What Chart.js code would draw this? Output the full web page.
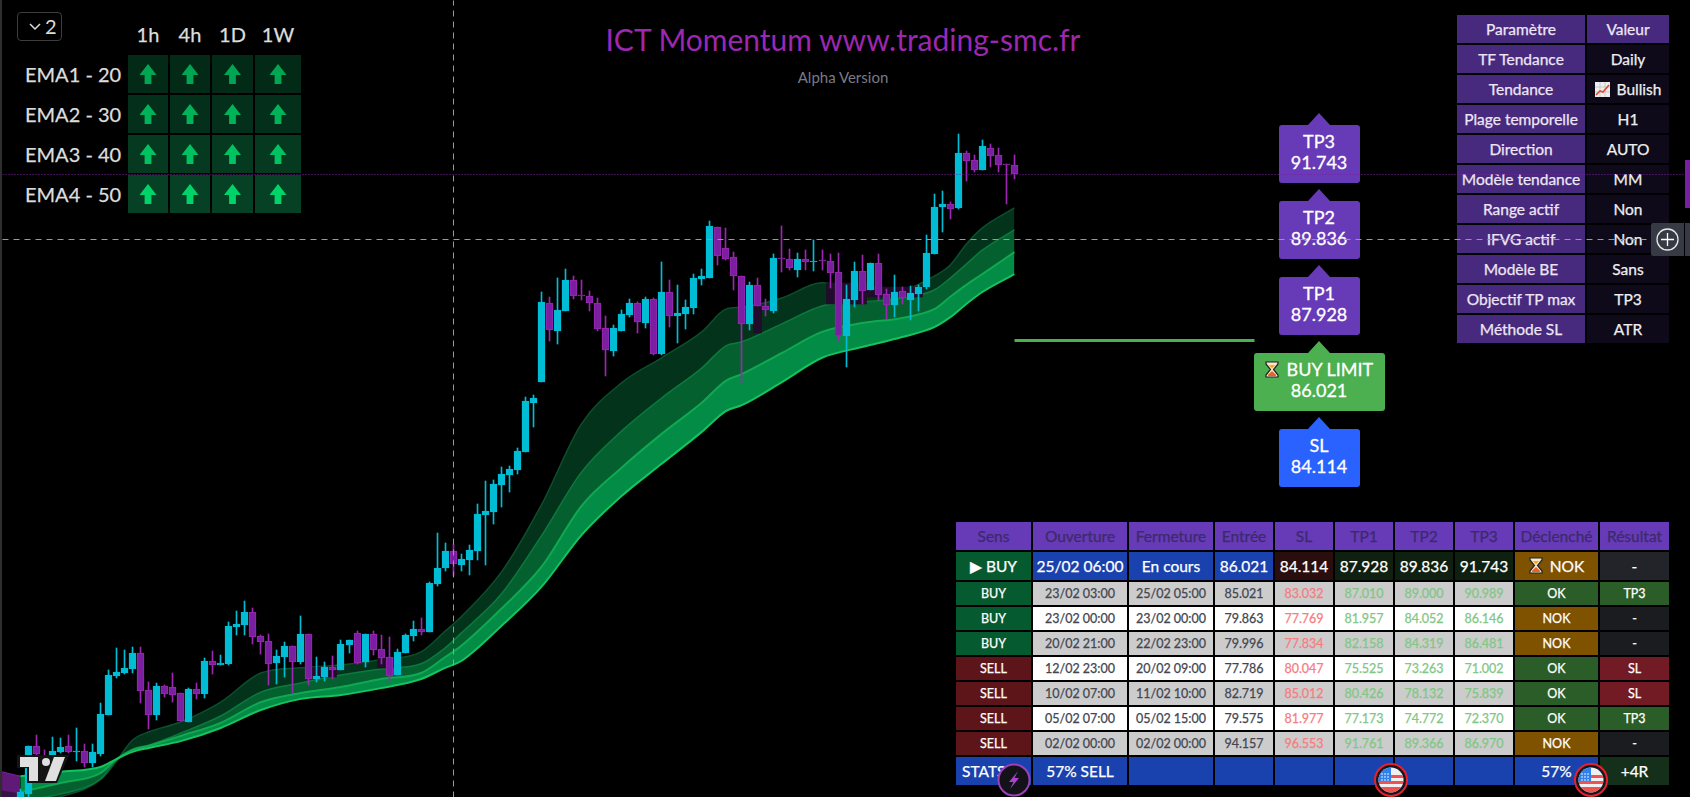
<!DOCTYPE html>
<html>
<head>
<meta charset="utf-8">
<title>ICT Momentum</title>
<script src="https://cdn.jsdelivr.net/npm/chart.js@4"></script>
<style>
  html, body { margin: 0; padding: 0; background: #000; width: 1690px; height: 797px; overflow: hidden; }
  body { font-family: Lato, "Noto Sans", sans-serif; color: #fff; position: relative; }
  #chart { position: absolute; left: 0; top: 0; z-index: 5; pointer-events: none; }
  table { position: absolute; border-collapse: separate; border-spacing: 2px; table-layout: fixed; z-index: 2; -webkit-text-stroke: .25px; }
  td { padding: 0; text-align: center; vertical-align: middle; white-space: nowrap; overflow: hidden; }
  #title { position: absolute; left: 495px; width: 696px; top: 19px; text-align: center; font-size: 30px; color: #9c27b0; line-height: 40px; }
  #subtitle { position: absolute; left: 695px; width: 296px; top: 67px; text-align: center; font-size: 15px; color: #787b86; line-height: 20px; }
  #edge { position: absolute; left: 0; top: 0; width: 2px; height: 797px; background: #2e2e2e; z-index: 6; }
  #collapse { position: absolute; left: 17px; top: 12px; width: 43px; height: 27px; border: 1px solid #3d3d3d; border-radius: 4px; font-size: 20px; line-height: 27px; color: #ddd; }
  #collapse span { position: absolute; left: 27px; top: 0; }
  #collapse svg { position: absolute; left: 11px; top: 10px; }
  .arrow { width: 17px; height: 20px; margin: auto; clip-path: polygon(50% 0, 100% 55%, 70% 55%, 70% 100%, 30% 100%, 30% 55%, 0 55%); }
  .lbl { position: absolute; z-index: 2; box-sizing: border-box; }
  .lbl .box { position: absolute; left: 0; top: 12px; width: 100%; height: 58px; border-radius: 3px; text-align: center; font-size: 18px; line-height: 21px; padding-top: 6px; box-sizing: border-box; -webkit-text-stroke: .3px; }
  .lbl .tip { position: absolute; top: 0; width: 0; height: 0; border-left: 11px solid transparent; border-right: 11px solid transparent; border-bottom: 12px solid; }
  #tag { position: absolute; left: 1685px; top: 160px; width: 5px; height: 48px; background: #7b1fa2; z-index: 6; }
  #plus { position: absolute; left: 1651px; top: 223px; width: 33px; height: 33px; background: #363a45; border-radius: 2px 0 0 2px; z-index: 6; }
  #plus2 { position: absolute; left: 1685px; top: 223px; width: 5px; height: 33px; background: #363a45; z-index: 6; }
  .over { position: absolute; z-index: 7; }
  svg { display: inline-block; }
</style>
</head>
<body>
<div id="edge"></div>
<div id="collapse"><svg width="12" height="8" viewBox="0 0 12 8"><path d="M1 1 L6 6 L11 1" fill="none" stroke="#ddd" stroke-width="1.5"/></svg><span>2</span></div>
<div id="title">ICT Momentum www.trading-smc.fr</div>
<div id="subtitle">Alpha Version</div>
<div id="tag"></div>
<div id="plus"><svg width="33" height="33" viewBox="0 0 33 33"><circle cx="16.5" cy="16.5" r="10.5" fill="none" stroke="#e8e8e8" stroke-width="1.3"/><path d="M16.5 10 V23 M10 16.5 H23" stroke="#fff" stroke-width="1.3"/></svg></div>
<div id="plus2"></div>
<canvas id="chart" width="1690" height="797"></canvas>

<script>
// candles, one entry per bar
const opens = [74.25,74.65,75.86,75.61,75.63,75.71,75.86,75.71,75.73,75.43,75.66,76.64,77.61,77.69,77.79,78.19,77.26,76.64,77.36,77.34,77.19,76.46,77.29,77.16,77.99,77.89,77.92,78.84,78.89,79.22,78.62,78.49,77.94,78.09,78.37,77.97,78.67,77.54,77.59,77.84,77.77,78.39,78.69,77.97,78.67,78.29,78.09,77.64,78.19,78.62,78.79,78.72,79.92,80.32,80.75,80.40,80.53,80.75,81.65,81.73,82.41,82.66,82.78,83.24,84.47,84.99,86.97,86.27,86.77,87.55,87.18,87.15,86.97,86.35,85.77,86.27,86.67,86.97,86.47,87.07,85.69,87.25,86.65,86.70,86.85,87.58,87.60,88.88,88.35,88.13,87.65,86.45,87.43,86.90,86.77,88.10,88.08,87.80,88.08,88.00,88.05,88.03,87.75,86.15,87.05,87.78,87.30,87.98,87.20,86.92,87.28,87.05,87.20,87.38,88.20,89.38,89.46,89.36,90.74,90.56,90.31,90.86,90.69,90.46,90.44];
const highs = [74.78,75.86,76.13,75.76,76.08,76.06,76.13,76.31,75.91,75.91,76.94,77.77,78.32,78.27,78.34,78.34,77.46,77.44,77.39,77.69,77.19,77.31,77.44,78.07,78.24,78.14,78.97,79.25,79.50,79.32,78.64,78.67,78.27,78.47,78.37,79.12,78.67,78.09,77.96,78.12,78.52,78.52,78.74,78.67,78.74,78.64,78.59,78.29,78.67,78.99,79.07,79.97,81.20,80.95,80.93,80.68,80.90,81.93,82.51,82.53,82.86,82.88,83.34,84.62,84.67,87.25,87.13,87.60,87.83,87.65,87.55,87.28,87.10,86.65,86.42,86.80,87.07,87.00,87.13,87.10,88.00,87.55,87.43,87.05,87.70,87.83,89.03,88.88,88.86,88.25,87.65,87.50,87.60,87.07,88.20,88.91,88.33,88.23,88.30,88.55,88.30,88.20,88.23,87.43,88.00,88.18,87.98,88.20,87.33,87.68,87.38,87.40,87.43,88.68,89.71,89.79,89.51,91.22,90.79,90.69,91.07,90.96,90.86,90.46,90.69];
const lows = [74.50,74.55,75.58,75.43,75.58,75.68,75.68,75.48,75.33,75.33,75.61,76.64,77.56,77.66,77.69,76.94,76.28,76.51,77.09,76.96,76.49,76.46,77.04,77.06,77.66,77.89,77.89,78.64,78.64,78.42,78.17,77.39,77.41,77.59,77.19,77.92,77.39,77.46,77.49,77.54,77.77,78.19,77.92,77.84,78.14,77.92,77.46,77.64,78.19,78.49,78.64,78.72,79.87,80.25,80.12,80.25,80.15,80.53,80.40,81.43,81.85,82.23,82.68,83.24,83.86,84.99,86.02,85.95,86.77,87.07,87.05,86.77,86.27,85.14,85.64,86.27,86.62,86.22,86.35,85.67,85.67,86.37,85.97,86.32,86.70,87.43,87.60,87.93,88.05,87.30,84.97,86.30,86.90,86.65,86.72,87.75,87.80,87.63,87.80,87.78,87.80,87.35,86.02,85.37,86.87,86.95,87.30,87.05,86.57,86.62,86.95,86.55,86.77,87.33,88.20,88.76,89.08,89.33,90.04,90.26,90.31,90.39,90.26,89.46,90.09];
const closes = [74.70,75.86,75.66,75.48,75.73,75.83,75.71,75.73,75.43,75.71,76.66,77.64,77.71,77.82,78.19,77.24,76.64,77.36,77.16,77.14,76.49,77.29,77.16,77.99,77.89,77.94,78.87,78.92,79.22,78.59,78.47,77.92,78.12,78.37,77.97,78.67,77.54,77.61,77.84,77.77,78.42,78.52,77.94,78.67,78.27,78.07,77.61,78.22,78.64,78.79,78.72,79.95,80.33,80.75,80.42,80.55,80.78,81.68,81.75,82.43,82.68,82.81,83.26,84.52,84.59,87.00,86.30,86.80,87.55,87.15,87.15,86.97,86.32,85.80,86.35,86.70,86.97,86.50,87.07,85.69,87.25,86.65,86.72,86.87,87.60,87.65,88.91,88.15,88.08,87.65,86.45,87.43,86.90,86.80,88.10,88.08,87.85,88.08,88.00,88.03,88.03,87.73,86.15,87.07,87.78,87.28,87.98,87.18,86.92,87.25,87.10,87.23,87.38,88.23,89.38,89.46,89.33,90.74,90.54,90.31,90.91,90.66,90.44,90.44,90.21];

// the four EMA lines, sampled at these bars
const emaBars = [0,5,10,12,14,16,20,25,30,35,40,45,50,53,55,60,65,70,75,80,85,88,90,95,100,105,110,114,116,118,120,124];
const ema1 = [74.35,74.58,75.01,75.48,76.01,76.21,76.46,76.96,77.69,77.82,77.89,78.02,78.22,78.74,79.10,80.22,81.91,83.94,84.97,85.60,86.25,86.82,86.87,87.10,87.48,87.35,87.33,87.65,87.93,88.45,88.86,89.36];
const ema2 = [74.50,74.65,75.03,75.51,75.78,75.88,76.18,76.61,77.21,77.44,77.64,77.79,77.92,78.32,78.69,79.67,81.13,82.73,83.76,84.59,85.34,85.90,86.00,86.45,86.90,87.00,87.10,87.30,87.60,87.95,88.30,88.81];
const ema3 = [74.70,74.93,75.18,75.53,75.76,75.86,76.11,76.44,76.96,77.19,77.34,77.54,77.69,78.09,78.37,79.30,80.35,81.88,82.84,83.69,84.47,85.02,85.19,85.72,86.25,86.47,86.60,86.82,87.13,87.43,87.70,88.25];
const ema4 = [75.10,75.21,75.33,75.53,75.71,75.81,75.98,76.31,76.76,77.04,77.14,77.31,77.54,77.82,77.99,78.87,79.85,81.15,82.13,82.94,83.74,84.26,84.41,84.99,85.60,85.87,86.12,86.37,86.62,86.95,87.25,87.70];

// bearish stretch at the far left, before the trend flips
const bearBars = [-2.28, 0];
const bear2 = [74.58, 74.50];
const bear3 = [74.75, 74.68];
const bear4 = [75.21, 75.10];

// dark purple gap boxes behind the candles
const zoneBars = [37,38,39,45,46,92,101,102,103,104,105,106,107,108,109,110,111,112];
const zoneTops = [77.84,77.84,77.84,78.07,78.07,86.90,87.48,87.48,87.48,87.48,87.48,87.38,87.38,87.38,87.38,87.38,87.38,87.38];
const zoneBottoms = [77.59,77.59,77.59,77.82,77.82,86.22,86.95,86.95,86.95,86.95,86.95,87.13,87.13,87.13,87.13,87.13,87.13,87.13];

const lastClose = 90.21;
const crossPrice = 88.57;
const crossBar = 54;
const entryBars = [124, 153.9];
const entryPrice = 86.021;

// trade levels
const levelNames = ['TP3', 'TP2', 'TP1', 'BUY LIMIT', 'SL'];
const levelPrices = [91.743, 89.836, 87.928, 86.021, 84.114];
const levelColors = ['#673ab7', '#673ab7', '#673ab7', '#4caf50', '#2962ff'];
const levelBar = 162;

// multi timeframe EMA table
const emaNames = ['EMA1 - 20', 'EMA2 - 30', 'EMA3 - 40', 'EMA4 - 50'];
const frames = ['1h', '4h', '1D', '1W'];
const emaCellColors = ['#032a16', '#04301b', '#053a20', '#064126'];
const emaArrowColors = ['#00a651', '#00b359', '#00c261', '#00d468'];

// settings table
const paramNames = ['TF Tendance', 'Tendance', 'Plage temporelle', 'Direction', 'Modèle tendance', 'Range actif', 'IFVG actif', 'Modèle BE', 'Objectif TP max', 'Méthode SL'];
const paramValues = ['Daily', 'Bullish', 'H1', 'AUTO', 'MM', 'Non', 'Non', 'Sans', 'TP3', 'ATR'];

// trades table
const headers = ['Sens', 'Ouverture', 'Fermeture', 'Entrée', 'SL', 'TP1', 'TP2', 'TP3', 'Déclenché', 'Résultat'];
const current = ['BUY', '25/02 06:00', 'En cours', '86.021', '84.114', '87.928', '89.836', '91.743', 'NOK', '-'];
const sens = ['BUY', 'BUY', 'BUY', 'SELL', 'SELL', 'SELL', 'SELL'];
const ouverture = ['23/02 03:00', '23/02 00:00', '20/02 21:00', '12/02 23:00', '10/02 07:00', '05/02 07:00', '02/02 00:00'];
const fermeture = ['25/02 05:00', '23/02 00:00', '22/02 23:00', '20/02 09:00', '11/02 10:00', '05/02 15:00', '02/02 00:00'];
const entree = ['85.021', '79.863', '79.996', '77.786', '82.719', '79.575', '94.157'];
const sl = ['83.032', '77.769', '77.834', '80.047', '85.012', '81.977', '96.553'];
const tp1 = ['87.010', '81.957', '82.158', '75.525', '80.426', '77.173', '91.761'];
const tp2 = ['89.000', '84.052', '84.319', '73.263', '78.132', '74.772', '89.366'];
const tp3 = ['90.989', '86.146', '86.481', '71.002', '75.839', '72.370', '86.970'];
const declenche = ['OK', 'NOK', 'NOK', 'OK', 'OK', 'OK', 'NOK'];
const resultat = ['TP3', '-', '-', 'SL', 'SL', 'TP3', '-'];
const stats = ['STATS', '57% SELL', '', '', '', '', '', '', '57%', '+4R'];

const UP = '#00bcd4';
const DOWN = '#7b1fa2';
const DOWN_EDGE = '#9c27b0';
const hourglass = '<svg width="14" height="17" viewBox="0 0 14 17" style="vertical-align:-2px;margin-right:3px"><path d="M1 1 H13 V3 L8.5 8.5 L13 14 V16 H1 V14 L5.5 8.5 L1 3 Z" fill="#fbe9c6" stroke="#222" stroke-width="1.2"/><path d="M3 13.8 L7 10 L11 13.8 V15 H3 Z" fill="#e8622c"/><path d="M4 4 H10 L7 7.5 Z" fill="#f5a623"/></svg>';
const trendIcon = '<svg width="15" height="15" viewBox="0 0 15 15" style="vertical-align:-2px;margin-right:3px"><rect width="15" height="15" fill="#eee"/><path d="M0 5 H15 M0 10 H15 M5 0 V15 M10 0 V15" stroke="#bbb" stroke-width=".7"/><path d="M1 13 L5 9 L8 10 L14 3" fill="none" stroke="#e8472c" stroke-width="1.6"/></svg>';

function pairs(bars, values) {
    return bars.map((b, i) => ({ x: b, y: values[i] }));
}

function emaDataset(values, color, width, fillIndex, fillColor) {
    const ds = {
        type: 'line', data: pairs(emaBars, values), borderColor: color, borderWidth: width,
        pointRadius: 0, cubicInterpolationMode: 'monotone', order: 10, fill: false
    };
    if (fillIndex !== undefined) {
        ds.fill = fillIndex;
        ds.backgroundColor = fillColor;
    }
    return ds;
}

function flatLine(bars, price, color, width, dash, order) {
    return {
        type: 'line', data: bars.map(b => ({ x: b, y: price })), borderColor: color, borderWidth: width,
        borderDash: dash, pointRadius: 0, order: order, crisp: true, fill: false
    };
}

const upOrDown = (up, down) => closes.map((c, i) => (c >= opens[i] ? up : down));
const barIds = closes.map((c, i) => i);

const datasets = [
    // fill targets are absolute dataset indexes, so ema4 has to stay first
    emaDataset(ema4, '#14c45e', 2),
    emaDataset(ema3, '#10a852', 2, 0, '#028c45'),
    emaDataset(ema2, '#0c7a3e', 1.5, 1, '#05602f'),
    emaDataset(ema1, '#0b4f2c', 1.5, 2, '#04331c'),
    { type: 'line', data: pairs(bearBars, bear4), borderColor: '#7b1fa2', borderWidth: 1, pointRadius: 0, order: 11, fill: false },
    { type: 'line', data: pairs(bearBars, bear3), borderColor: '#5e1a76', borderWidth: 1, pointRadius: 0, order: 11, fill: 4, backgroundColor: '#5e1a76' },
    { type: 'line', data: pairs(bearBars, bear2), borderColor: '#3a1249', borderWidth: 1, pointRadius: 0, order: 11, fill: 5, backgroundColor: '#3a1249' },
    {
        type: 'bar', data: zoneBars.map((b, i) => ({ x: b, y: [zoneBottoms[i], zoneTops[i]] })),
        backgroundColor: '#220c2c', barThickness: 8, grouped: false, order: 4
    },
    {
        type: 'bar', data: barIds.map(i => ({ x: i, y: [lows[i], highs[i]] })),
        backgroundColor: upOrDown(UP, DOWN_EDGE), barThickness: 1, grouped: false, order: 3
    },
    {
        type: 'bar', data: barIds.map(i => ({ x: i, y: [opens[i], closes[i]] })),
        backgroundColor: upOrDown(UP, DOWN), borderColor: upOrDown(UP, DOWN_EDGE), borderWidth: 1,
        borderSkipped: false, barThickness: 7, grouped: false, order: 2
    },
    flatLine(entryBars, entryPrice, '#4caf50', 3, [], 1),
    flatLine([-2.28, 207.7], lastClose, '#7b1fa2', 1, [1, 2], 0.6),
    flatLine([-2.16, 202.8], crossPrice, '#9a9a9a', 1, [6, 5], 0.5),
    {
        type: 'line', data: [{ x: crossBar, y: 74.578 }, { x: crossBar, y: 94.578 }], borderColor: '#9a9a9a', borderWidth: 1,
        borderDash: [6, 5], pointRadius: 0, order: 0.5, crisp: true, fill: false
    }
];

// snap bars and flat lines to the pixel grid so that wicks stay 1px wide
const crispPlugin = {
    id: 'crisp',
    afterDatasetsUpdate(chart) {
        chart.data.datasets.forEach((ds, i) => {
            const els = chart.getDatasetMeta(i).data;
            if (ds.type === 'bar') {
                els.forEach(el => {
                    el.x = Math.floor(el.x) + 0.5;
                    el.y = Math.round(el.y);
                    el.base = Math.round(el.base);
                    if (el.base === el.y) el.base = el.y + 1;
                });
            } else if (ds.crisp) {
                els.forEach(el => {
                    if (ds.borderWidth % 2 === 1) {
                        el.x = Math.floor(el.x) + 0.5;
                        el.y = Math.floor(el.y) + 0.5;
                    }
                });
            }
        });
    }
};

const chart = new Chart(document.getElementById('chart').getContext('2d'), {
    data: { datasets: datasets },
    options: {
        responsive: false,
        animation: false,
        layout: { padding: 0 },
        plugins: { legend: { display: false }, tooltip: { enabled: false }, title: { display: false } },
        events: [],
        scales: {
            x: { type: 'linear', min: -2.534, max: 208.27, offset: false, display: false },
            y: { type: 'linear', min: 74.578, max: 94.578, display: false }
        }
    },
    plugins: [crispPlugin]
});

function placeLevels() {
    const xScale = chart.scales.x;
    const yScale = chart.scales.y;
    levelNames.forEach((name, i) => {
        const wide = name === 'BUY LIMIT';
        const width = wide ? 131 : 81;
        const div = document.createElement('div');
        div.className = 'lbl';
        div.style.left = (xScale.getPixelForValue(levelBar) - width / 2) + 'px';
        div.style.top = Math.round(yScale.getPixelForValue(levelPrices[i])) + 'px';
        div.style.width = width + 'px';
        div.style.height = '70px';
        div.innerHTML = `<div class="tip" style="left:${width / 2 - 11}px;border-bottom-color:${levelColors[i]}"></div>` +
            `<div class="box" style="background:${levelColors[i]}">${wide ? hourglass + ' ' : ''}${name}<br>${levelPrices[i].toFixed(3)}</div>`;
        document.body.appendChild(div);
    });
}

function buildEmaTable() {
    let html = '<tr style="height:39px"><td style="width:101px"></td>';
    const widths = [40, 40, 41, 46];
    frames.forEach((f, i) => { html += `<td style="width:${widths[i]}px;font-size:20px;color:#ddd">${f}</td>`; });
    html += '</tr>';
    emaNames.forEach((name, r) => {
        html += `<tr style="height:38px"><td style="text-align:left;font-size:20px;color:#ddd">${name}</td>`;
        frames.forEach(() => {
            html += `<td style="background:${emaCellColors[r]}"><div class="arrow" style="background:${emaArrowColors[r]}"></div></td>`;
        });
        html += '</tr>';
    });
    const t = document.createElement('table');
    t.style.cssText = 'left:23px;top:12px';
    t.innerHTML = html;
    document.body.appendChild(t);
}

function buildParamTable() {
    const c1 = 'background:#472a7e;color:#eee6f5;font-size:15.5px;line-height:26px';
    let html = `<tr style="height:28px"><td style="width:128px;${c1}">Paramètre</td><td style="width:82px;${c1}">Valeur</td></tr>`;
    paramNames.forEach((name, i) => {
        const v = paramValues[i] === 'Bullish' ? trendIcon + ' Bullish' : paramValues[i];
        html += `<tr style="height:28px"><td style="${c1}">${name}</td><td style="background:#0e0a1a;color:#eee;font-size:15.5px;line-height:26px">${v}</td></tr>`;
    });
    const t = document.createElement('table');
    t.style.cssText = 'left:1455px;top:13px';
    t.innerHTML = html;
    document.body.appendChild(t);
}

function trigColor(v) { return v === 'OK' ? '#2a5d28' : '#7f5200'; }
function resColor(v) { return v === 'TP3' ? '#2a5d28' : v === 'SL' ? '#731b24' : '#1b1c20'; }
function sensColor(v) { return v === 'BUY' ? '#055a30' : '#5e1519'; }

function buildTradeTable() {
    const widths = [75, 94, 84, 58, 58, 58, 58, 58, 83, 69];
    let html = '<tr style="height:28px">';
    headers.forEach((h, i) => { html += `<td style="width:${widths[i]}px;background:#673ab7;color:#3b2b6b;font-size:15.5px">${h}</td>`; });
    html += '</tr><tr style="height:28px">';
    const curBg = ['#055a30', '#1a42ae', '#1a42ae', '#1a42ae', '#2a0d0d', '#0f1f10', '#0f1f10', '#0f1f10', '#7f5200', '#23242a'];
    current.forEach((v, i) => {
        let txt = v;
        if (i === 0) txt = '<span style="font-family:\'DejaVu Sans\'">▶</span> ' + v;
        if (i === 8) txt = hourglass + ' ' + v;
        html += `<td style="background:${curBg[i]};color:#fff;font-size:15.5px">${txt}</td>`;
    });
    html += '</tr>';
    sens.forEach((s, r) => {
        const bg = r % 2 === 0 ? '#cccccc' : '#ffffff';
        const small = 'font-size:12.5px';
        html += `<tr style="height:23px"><td style="background:${sensColor(s)};color:#fff;${small}">${s}</td>`;
        [ouverture, fermeture, entree].forEach(col => { html += `<td style="background:${bg};color:#434651;${small}">${col[r]}</td>`; });
        html += `<td style="background:${bg};color:#f77c80;${small}">${sl[r]}</td>`;
        [tp1, tp2, tp3].forEach(col => { html += `<td style="background:${bg};color:#81c784;${small}">${col[r]}</td>`; });
        html += `<td style="background:${trigColor(declenche[r])};color:#fff;${small}">${declenche[r]}</td>`;
        html += `<td style="background:${resColor(resultat[r])};color:#fff;${small}">${resultat[r]}</td></tr>`;
    });
    html += '<tr style="height:28px">';
    stats.forEach((v, i) => {
        const pad = i === 0 ? 'text-align:left;padding-left:6px;' : '';
        html += `<td style="${pad}background:${i === 9 ? '#14301a' : '#1a42ae'};color:#fff;font-size:15.5px">${v}</td>`;
    });
    html += '</tr>';
    const t = document.createElement('table');
    t.style.cssText = 'left:954px;top:520px';
    t.innerHTML = html;
    document.body.appendChild(t);
}

function flagBadge(cx, id) {
    const d = document.createElement('div');
    d.className = 'over';
    d.style.cssText = `left:${cx - 17}px;top:763px`;
    let stars = '';
    [11, 14, 17].forEach(y => { [8, 11, 14].forEach(x => { stars += `<circle cx="${x}" cy="${y}" r=".8" fill="#fff"/>`; }); });
    d.innerHTML = `<svg width="34" height="34" viewBox="0 0 34 34"><clipPath id="${id}"><circle cx="17" cy="17" r="12.5"/></clipPath>` +
        '<circle cx="17" cy="17" r="16" fill="#131722" stroke="#e8202c" stroke-width="2"/>' +
        `<g clip-path="url(#${id})"><rect width="34" height="34" fill="#f0f0f0"/><rect y="12" width="34" height="3" fill="#ef5350"/><rect y="18" width="34" height="3" fill="#ef5350"/><rect y="24" width="34" height="6" fill="#ef5350"/><rect width="17" height="18" fill="#2f80ed"/>${stars}</g></svg>`;
    document.body.appendChild(d);
}

function boltBadge(cx) {
    const d = document.createElement('div');
    d.className = 'over';
    d.style.cssText = `left:${cx - 17}px;top:763px`;
    d.innerHTML = '<svg width="34" height="34" viewBox="0 0 34 34"><circle cx="17" cy="17" r="15.5" fill="#131218" stroke="#9c40b8" stroke-width="2"/><path d="M21 8 L12 19 H16.5 L13 26 L22 15 H17.5 Z" fill="#a845c8"/></svg>';
    document.body.appendChild(d);
}

function drawLogo() {
    const d = document.createElement('div');
    d.className = 'over';
    d.style.cssText = 'left:17px;top:754px';
    d.innerHTML = '<svg width="52" height="29" viewBox="0 0 52 29"><path d="M0 1 H52 L40 29 H10 V14 H0 Z" fill="#141414"/>' +
        '<path d="M3 3 H21 V27 H12 V13 H3 Z" fill="#e0e0e0"/><circle cx="29" cy="8" r="4" fill="#e0e0e0"/><path d="M37 3 H48 L39 27 H28 Z" fill="#e0e0e0"/></svg>';
    document.body.appendChild(d);
}

placeLevels();
buildEmaTable();
buildParamTable();
buildTradeTable();
boltBadge(1014);
flagBadge(1391, 'f1');
flagBadge(1591, 'f2');
drawLogo();
</script>
</body>
</html>
